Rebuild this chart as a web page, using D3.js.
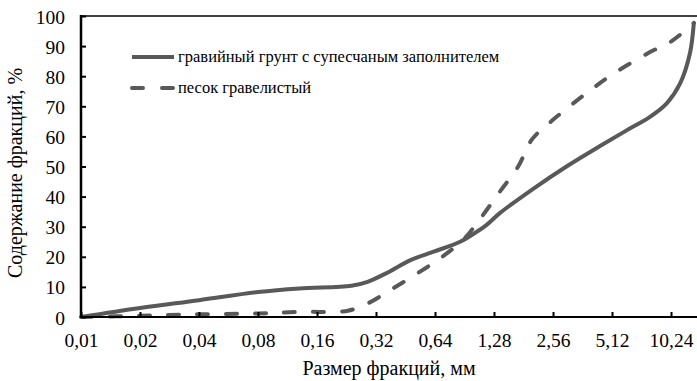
<!DOCTYPE html>
<html><head><meta charset="utf-8">
<script src="https://cdn.jsdelivr.net/npm/d3@7"></script>
</head><body style="margin:0"><svg id="c" width="697" height="381"></svg>
<script>
const xTicks = [0.01,0.02,0.04,0.08,0.16,0.32,0.64,1.28,2.56,5.12,10.24];
const xTickLabels = ["0,01","0,02","0,04","0,08","0,16","0,32","0,64","1,28","2,56","5,12","10,24"];
const yTicks = [0,10,20,30,40,50,60,70,80,90,100];
const gravelSize = [0.01,0.02,0.04,0.08,0.13,0.24,0.29,0.36,0.48,0.63,0.86,1.0,1.17,1.37,2.02,3.0,4.45,6.08,8.0,9.74,11.4,12.8,13.4];
const gravelPct  = [0,3,5.6,8.3,9.5,10.4,11.7,14.5,18.9,21.7,25,27.5,30.5,34.5,42.5,50,56.8,62,66.5,71,77.6,87.7,98];
const sandSize = [0.01,0.02,0.04,0.08,0.13,0.23,0.29,0.38,0.52,0.68,0.89,1.07,1.37,1.7,2.0,2.56,4.0,5.12,8.0,10.24,13.4];
const sandPct  = [0,0.4,0.9,1.2,1.7,2.1,4.5,9,14.5,19.5,25.6,32,41.6,50,59,65.5,75.5,80.5,88,91.5,97.7];
const seriesNames = ["гравийный грунт с супесчаным заполнителем","песок гравелистый"];
const xTitle = "Размер фракций, мм";
const yTitle = "Содержание фракций, %";

const F = "Liberation Serif";
const svg = d3.select("#c");
const L=81, B=317, T=16, R=697;
const x = d3.scaleLog().base(2).domain([0.01,10.24]).range([L,671]);
const y = d3.scaleLinear().domain([0,100]).range([B,T]);
const col = "#595959";

svg.append("line").attr("x1",L).attr("x2",R).attr("y1",T).attr("y2",T).attr("stroke","#000").attr("stroke-width",1.5);

const line = d3.line().x(d=>x(d[0])).y(d=>y(d[1])).curve(d3.curveCatmullRom.alpha(0.5));
svg.append("path").datum(sandSize.map((s,i)=>[s,sandPct[i]])).attr("d",line)
  .attr("fill","none").attr("stroke",col).attr("stroke-width",4).attr("stroke-dasharray","11,18").attr("stroke-linecap","round");
svg.append("path").datum(gravelSize.map((s,i)=>[s,gravelPct[i]])).attr("d",line)
  .attr("fill","none").attr("stroke",col).attr("stroke-width",4);

const xa = svg.append("g").attr("transform",`translate(0,${B})`)
  .call(d3.axisBottom(x).tickValues(xTicks).tickFormat((d,i)=>xTickLabels[i]).tickSizeInner(-5).tickSizeOuter(0).tickPadding(16));
xa.select(".domain").remove();
xa.append("line").attr("x1",L).attr("x2",R).attr("stroke","#000").attr("stroke-width",2);
const ya = svg.append("g").attr("transform",`translate(${L},0)`)
  .call(d3.axisLeft(y).tickValues(yTicks).tickSizeInner(-5).tickSizeOuter(0).tickPadding(16));
ya.select(".domain").remove();
ya.append("line").attr("y1",T-1).attr("y2",B+1).attr("stroke","#000").attr("stroke-width",2.5);
[xa,ya].forEach(g=>g.attr("font-family",F).attr("font-size",19.5));
svg.selectAll(".tick line").attr("stroke","#000").attr("stroke-width",2);
svg.selectAll(".tick text").attr("fill","#000").attr("font-family",F).attr("font-size",19.5);
ya.selectAll(".tick text").attr("dy","0.36em");

svg.append("text").attr("x",389).attr("y",375).attr("text-anchor","middle").attr("font-family",F).attr("font-size",20).text(xTitle);
svg.append("text").attr("transform","translate(22,173) rotate(-90)").attr("text-anchor","middle").attr("font-family",F).attr("font-size",20).text(yTitle);

const lg = svg.append("g");
lg.append("line").attr("x1",132).attr("x2",174).attr("y1",57).attr("y2",57).attr("stroke",col).attr("stroke-width",4);
lg.append("text").attr("x",178).attr("y",62).attr("font-family",F).attr("font-size",16.5).text(seriesNames[0]);
lg.append("line").attr("x1",132).attr("x2",174).attr("y1",88).attr("y2",88).attr("stroke",col).attr("stroke-width",4).attr("stroke-dasharray","11,19").attr("stroke-linecap","round");
lg.append("text").attr("x",178).attr("y",93).attr("font-family",F).attr("font-size",16.5).text(seriesNames[1]);
</script></body></html>
